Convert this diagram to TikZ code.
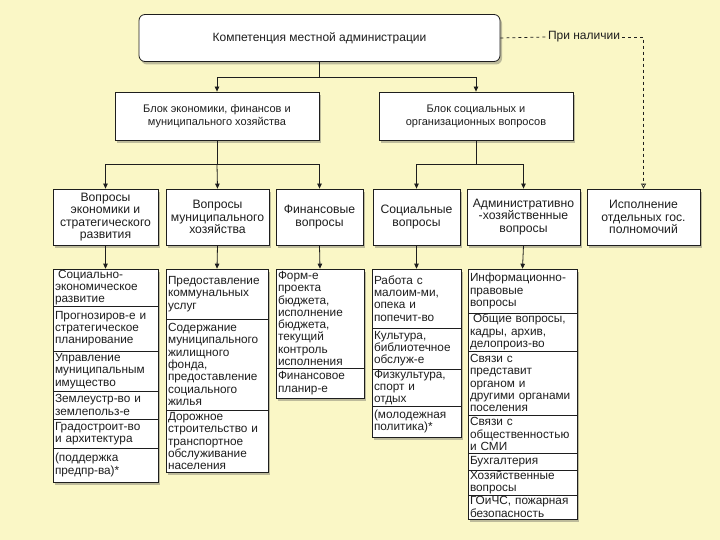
\documentclass[tikz,border=0pt]{standalone}
\usepackage{fontspec}
\setmainfont{Liberation Sans}
\usetikzlibrary{shadows,arrows.meta}
\definecolor{bg}{RGB}{250,247,198}
\definecolor{ink}{RGB}{30,30,30}
\tikzset{
  shad/.style={drop shadow={shadow xshift=2pt, shadow yshift=-3pt, opacity=0.35, fill=black!70}},
  topbox/.style={draw=ink, fill=white, rounded corners=6pt, line width=0.8pt, shad, font=\fontsize{12}{14}\selectfont, text=ink},
  blockbox/.style={draw=ink, fill=white, line width=0.8pt, shad, align=center, font=\fontsize{11}{13}\selectfont, text=ink},
  lvlbox/.style={draw=ink, fill=white, line width=0.8pt, shad, align=center, font=\fontsize{12.2}{12.5}\selectfont, text=ink},
  colbox/.style={draw=ink, fill=white, line width=0.8pt, shad, inner sep=0pt},
  litem/.style={draw=ink, line width=0.6pt, align=left, inner xsep=2pt, inner ysep=0pt, font=\fontsize{11.8}{12.3}\selectfont, text=ink},
  arr/.style={draw=ink, line width=0.8pt, -{Triangle[width=4.5pt,length=5pt]}},
  oarr/.style={draw=ink, line width=0.7pt, dashed, -{Triangle[open,width=5pt,length=5pt]}},
}
\newcommand\litem[6]{%
  \pgfmathsetmacro\lih{#5-#4}%
  \pgfmathsetmacro\liy{(#4+#5)/2}%
  \pgfmathsetmacro\lix{#2+#3/2}%
  \pgfmathsetmacro\liw{#3-4}%
  \node[litem, minimum height=\lih pt, text width=\liw pt] (#1) at (\lix,\liy) {#6};}
\newcommand\colrect[5]{%
  \pgfmathsetmacro\lih{#5-#4}%
  \pgfmathsetmacro\liy{(#4+#5)/2}%
  \pgfmathsetmacro\lix{#2+#3/2}%
  \node[colbox, minimum width=#3pt, minimum height=\lih pt] (#1) at (\lix,\liy) {};}
\begin{document}
\begin{tikzpicture}[x=1pt,y=-1pt]
\fill[bg] (0,0) rectangle (720,540);
\useasboundingbox (0,0) rectangle (720,540);

% top
\node[topbox, minimum width=361pt, minimum height=47pt] (top) at (319.5,38) {Компетенция местной администрации};
\node[text=ink, font=\fontsize{12}{14}\selectfont, inner xsep=2pt] (pn) at (584,37) {При наличии};

% blocks
\node[blockbox, minimum width=204pt, minimum height=48pt] (b1) at (217,116) {Блок экономики, финансов и\\муниципального хозяйства};
\node[blockbox, minimum width=194pt, minimum height=48pt] (b2) at (476,116) {Блок социальных и\\организационных вопросов};

% level 3
\node[lvlbox, minimum width=105pt, minimum height=56pt] (l1) at (105.5,217) {Вопросы\\экономики и\\стратегического\\развития};
\node[lvlbox, minimum width=103pt, minimum height=56pt] (l2) at (217.5,217) {Вопросы\\муниципального\\хозяйства};
\node[lvlbox, minimum width=87pt, minimum height=56pt] (l3) at (319.5,217) {Финансовые\\вопросы};
\node[lvlbox, minimum width=87pt, minimum height=56pt] (l4) at (416.5,217) {Социальные\\вопросы};
\node[lvlbox, minimum width=113pt, minimum height=56pt] (l5) at (523.5,217) {Административно\\-хозяйственные\\вопросы};
\node[lvlbox, minimum width=113pt, minimum height=56pt] (l6) at (643.5,217) {Исполнение\\отдельных гос.\\полномочий};

% column frames
\colrect{c1}{53}{105}{269}{482}
\colrect{c2}{166}{102}{269}{472}
\colrect{c3}{276}{88}{269}{398}
\colrect{c4}{372}{89}{269}{437}
\colrect{c5}{468}{109}{269}{519}

% column 1
\litem{a1}{53}{105}{269}{306}{\hspace*{3pt}Социально-\\экономическое\\развитие}
\litem{a2}{53}{105}{306}{351}{Прогнозиров-е и\\стратегическое\\планирование}
\litem{a3}{53}{105}{351}{391}{Управление\\муниципальным\\имущество}
\litem{a4}{53}{105}{391}{419}{Землеустр-во и\\землепольз-е}
\litem{a5}{53}{105}{419}{448}{Градостроит-во\\и архитектура}
\litem{a6}{53}{105}{448}{482}{(поддержка\\предпр-ва)*}

% column 2
\litem{m1}{166}{102}{269}{319}{Предоставление\\коммунальных\\услуг}
\litem{m2}{166}{102}{319}{410}{Содержание\\муниципального\\жилищного\\фонда,\\предоставление\\социального\\жилья}
\litem{m3}{166}{102}{410}{472}{Дорожное\\строительство и\\транспортное\\обслуживание\\населения}

% column 3
\litem{f1}{276}{88}{269}{368}{Форм-е\\проекта\\бюджета,\\исполнение\\бюджета,\\текущий\\контроль\\исполнения}
\litem{f2}{276}{88}{368}{398}{Финансовое\\планир-е}

% column 4
\litem{s1}{372}{89}{269}{328}{Работа с\\малоим-ми,\\опека и\\попечит-во}
\litem{s2}{372}{89}{328}{369}{Культура,\\библиотечное\\обслуж-е}
\litem{s3}{372}{89}{369}{406}{Физкультура,\\спорт и\\отдых}
\litem{s4}{372}{89}{406}{437}{(молодежная\\политика)*}

% column 5
\litem{h1}{468}{109}{269}{313}{Информационно-\\правовые\\вопросы}
\litem{h2}{468}{109}{313}{351}{\hspace*{3pt}Общие вопросы,\\кадры, архив,\\делопроиз-во}
\litem{h3}{468}{109}{351}{415}{Связи с\\представит\\органом и\\другими органами\\поселения}
\litem{h4}{468}{109}{415}{453}{Связи с\\общественностью\\и СМИ}
\litem{h5}{468}{109}{453}{470}{Бухгалтерия}
\litem{h6}{468}{109}{470}{495}{Хозяйственные\\вопросы}
\litem{h7}{468}{109}{495}{519}{ГОиЧС, пожарная\\безопасность}

% connectors
\draw[draw=ink, line width=0.8pt] (top.south) -- ++(0,16) coordinate (j0);
\draw[arr] (j0) -| (b1.north);
\draw[arr] (j0) -| (b2.north);
\draw[draw=ink, line width=0.8pt] (b1.south) -- ++(0,24) coordinate (j1);
\draw[arr] (j1) -| (l1.north);
\draw[arr] (j1) -- (l2.north);
\draw[arr] (j1) -| (l3.north);
\draw[draw=ink, line width=0.8pt] (b2.south) -- ++(0,24) coordinate (j2);
\draw[arr] (j2) -| (l4.north);
\draw[arr] (j2) -| (l5.north);
\draw[draw=ink, line width=0.7pt, dashed] (top.east) -- (pn.west);
\draw[oarr] (pn.east) -| (l6.north);

\draw[arr] (l1.south) -- (a1.north);
\draw[arr] (l2.south) -- (m1.north);
\draw[arr] (l3.south) -- (f1.north);
\draw[arr] (l4.south) -- (s1.north);
\draw[arr] (l5.south) -- (h1.north);
\end{tikzpicture}
\end{document}
